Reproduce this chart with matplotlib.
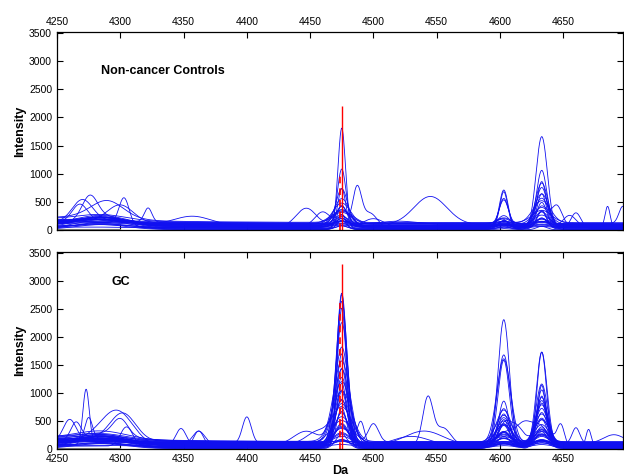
import numpy as np
import matplotlib.pyplot as plt

plt.rcParams['font.family'] = ['Liberation Sans', 'DejaVu Sans']

# tengely / feliratok
x_ticks = [4250, 4300, 4350, 4400, 4450, 4500, 4550, 4600, 4650]
y_ticks = [0, 500, 1000, 1500, 2000, 2500, 3000, 3500]
x_min, x_max = 4250, 4697

# Kontroll spektrumok (30 db) - csúcsmagasságok
ctrl_base = [10, 80, 35, 110, 55, 20, 95, 65, 40, 120, 75, 25, 100, 50, 70,
             130, 15, 85, 60, 30, 95, 45, 115, 75, 5, 105, 55, 35, 85, 65]
ctrl_left = [120, 60, 200, 30, 150, 90, 0, 170, 40, 110, 80, 190, 20, 130, 60,
             100, 160, 50, 140, 10, 70, 180, 30, 120, 90, 0, 150, 60, 110, 40]
ctrl_4475 = [1800, 1000, 700, 620, 500, 420, 380, 350, 320, 300, 280, 250, 230, 200, 190,
             180, 160, 150, 140, 120, 110, 100, 90, 80, 70, 60, 50, 40, 30, 20]
ctrl_w4475 = [3.0, 3.4, 3.2, 4.5, 6.0, 3.5, 7.0, 5.0, 8.0, 4.0, 6.5, 3.0, 9.0, 5.0, 4.0,
              7.0, 3.5, 6.0, 5.0, 8.0, 4.0, 6.0, 3.0, 7.0, 5.0, 4.0, 6.0, 3.0, 5.0, 4.0]
ctrl_4603 = [700, 600, 500, 450, 200, 150, 120, 100, 90, 80, 70, 60, 50, 40, 30,
             20, 60, 40, 30, 20, 10, 50, 40, 30, 20, 10, 30, 20, 10, 0]
ctrl_w4603 = [3.5, 3.0, 4.0, 3.5, 5.0, 4.0, 6.0, 3.5, 5.0, 4.5, 6.0, 3.0, 5.0, 4.0, 6.0,
              3.5, 5.0, 4.0, 6.0, 3.0, 5.0, 4.0, 6.0, 3.5, 5.0, 4.0, 6.0, 3.0, 5.0, 4.0]
ctrl_4633 = [1650, 980, 800, 750, 700, 620, 550, 500, 450, 400, 350, 320, 300, 280, 250,
             220, 200, 180, 150, 120, 100, 90, 80, 70, 60, 50, 40, 30, 20, 10]
ctrl_w4633 = [4.5, 4.0, 5.0, 3.5, 4.5, 6.0, 3.5, 5.5, 4.0, 7.0, 5.0, 4.0, 6.5, 3.5, 5.5,
              7.5, 4.5, 6.0, 5.0, 8.0, 4.0, 6.5, 5.0, 7.0, 4.0, 6.0, 5.0, 7.0, 4.0, 6.0]
# (spektrum, hely, magasság, szélesség)
ctrl_extra = [(0, 4303, 480, 4), (1, 4270, 380, 8), (2, 4276, 390, 6), (3, 4322, 250, 3),
              (4, 4447, 330, 8), (5, 4487, 700, 3.5), (5, 4497, 280, 6), (6, 4545, 500, 13),
              (7, 4357, 170, 15), (8, 4685, 380, 2), (9, 4697, 300, 3), (10, 4645, 350, 4),
              (11, 4660, 280, 4), (12, 4300, 300, 10), (13, 4500, 150, 8), (14, 4460, 250, 6),
              (15, 4290, 250, 12), (16, 4600, 130, 6), (17, 4268, 300, 6), (18, 4655, 200, 5),
              (19, 4380, 80, 20), (20, 4520, 60, 15)]
ctrl_red = [2200, 1000]

# GC spektrumok (40 db)
gc_base = [10, 80, 35, 110, 55, 20, 95, 65, 40, 120, 75, 25, 100, 50, 70, 130, 15, 85, 60, 30,
           95, 45, 115, 75, 5, 105, 55, 35, 85, 65, 15, 90, 45, 120, 25, 70, 55, 100, 40, 125]
gc_left = [100, 60, 180, 30, 150, 90, 0, 170, 40, 110, 80, 190, 20, 130, 60, 100, 160, 50, 140, 10,
           70, 180, 30, 120, 90, 0, 150, 60, 110, 40, 200, 20, 130, 70, 160, 40, 90, 120, 10, 150]
gc_4475 = [2750, 2700, 2600, 2400, 2200, 1800, 1600, 1500, 1400, 1300, 1200, 1150, 1100, 1000,
           950, 900, 850, 800, 750, 700, 650, 600, 550, 500, 450, 400, 380, 350, 320, 300,
           250, 200, 180, 150, 120, 100, 80, 60, 40, 20]
gc_w4475 = [3.5, 4.0, 4.5, 3.5, 5.0, 5.5, 4.0, 6.5, 4.5, 6.0, 5.0, 4.0, 7.0, 5.5, 4.5, 7.5, 6.0,
            5.0, 6.5, 4.0, 8.0, 5.5, 4.5, 7.0, 6.0, 8.5, 5.0, 6.5, 5.5, 7.5, 4.5, 6.5, 8.5, 5.5,
            7.5, 4.5, 6.5, 5.5, 8.5, 4.5]
gc_4603 = [2300, 1600, 1550, 1500, 800, 700, 600, 560, 520, 480, 450, 420, 400, 380, 350, 320,
           300, 280, 250, 220, 200, 180, 150, 120, 100, 80, 60, 50, 40, 30,
           250, 200, 150, 100, 80, 60, 40, 30, 20, 10]
gc_w4603 = [4.5, 5.0, 4.5, 5.5, 4.0, 5.0, 6.0, 4.5, 5.5, 6.5, 4.0, 5.0, 6.0, 7.0, 4.5, 5.5,
            6.5, 4.0, 5.0, 7.0, 6.0, 4.5, 5.5, 6.5, 7.5, 5.0, 6.0, 7.0, 5.0, 6.0,
            8.0, 5.0, 6.0, 7.0, 5.0, 6.0, 7.0, 5.0, 6.0, 7.0]
gc_4633 = [1720, 1650, 1100, 1050, 1000, 900, 850, 800, 750, 700, 650, 600, 550, 500, 450, 400,
           380, 350, 300, 280, 250, 220, 200, 180, 150, 120, 100, 80, 60, 40,
           300, 250, 200, 150, 120, 100, 80, 60, 40, 20]
gc_w4633 = [3.8, 4.2, 3.5, 4.5, 4.0, 5.0, 3.5, 4.5, 5.5, 4.0, 5.0, 6.0, 4.5, 5.5, 6.5, 4.0,
            5.0, 6.0, 7.0, 4.5, 5.5, 6.5, 5.0, 6.0, 7.0, 5.0, 6.0, 7.0, 5.0, 6.0,
            7.5, 5.0, 6.0, 7.0, 5.0, 6.0, 7.0, 5.0, 6.0, 7.0]
gc_extra = [(0, 4273, 970, 2.5), (1, 4260, 380, 5), (2, 4298, 500, 12), (3, 4302, 480, 10),
            (4, 4348, 300, 4), (5, 4362, 300, 4), (6, 4400, 470, 3.5), (7, 4447, 250, 10),
            (8, 4490, 450, 3), (9, 4500, 330, 4), (10, 4543, 830, 4), (10, 4555, 300, 6),
            (11, 4648, 400, 3), (12, 4660, 280, 3), (13, 4670, 300, 2), (14, 4540, 250, 15),
            (15, 4300, 300, 6), (16, 4275, 400, 3), (17, 4612, 350, 6), (18, 4362, 250, 5),
            (19, 4305, 350, 5), (20, 4455, 200, 8), (21, 4530, 180, 15), (22, 4620, 380, 8),
            (23, 4265, 300, 4), (24, 4420, 120, 10), (25, 4690, 150, 8)]
gc_red = [3300, 2600]


def spectra(base, left, p4475, w4475, p4603, w4603, p4633, w4633, extra):
    mz = np.linspace(x_min, x_max, 2000)
    out = []
    for i in range(len(base)):
        y = base[i] * (1 + 0.6 * np.exp(-(mz - x_min) / 80.0))
        y = y + left[i] * np.exp(-0.5 * ((mz - 4285) / 20.0) ** 2)
        y = y + p4475[i] * np.exp(-0.5 * ((mz - 4475) / w4475[i]) ** 2)
        y = y + p4603[i] * np.exp(-0.5 * ((mz - 4603) / w4603[i]) ** 2)
        y = y + p4633[i] * np.exp(-0.5 * ((mz - 4633) / w4633[i]) ** 2)
        for j, c, h, w in extra:
            if j == i:
                y = y + h * np.exp(-0.5 * ((mz - c) / w) ** 2)
        out.append(y)
    return mz, out


fig = plt.figure(figsize=(6.24, 4.76), dpi=100)
ax1 = fig.add_axes([0.0913, 0.5168, 0.9067, 0.416])
ax2 = fig.add_axes([0.0913, 0.0567, 0.9067, 0.414])

panels = [
    (ax1, spectra(ctrl_base, ctrl_left, ctrl_4475, ctrl_w4475, ctrl_4603, ctrl_w4603,
                  ctrl_4633, ctrl_w4633, ctrl_extra),
     ctrl_red, "Non-cancer Controls", 4285, 2770),
    (ax2, spectra(gc_base, gc_left, gc_4475, gc_w4475, gc_4603, gc_w4603,
                  gc_4633, gc_w4633, gc_extra),
     gc_red, "GC", 4293, 2930),
]

for ax, (mz, curves), red, label, tx, ty in panels:
    for y in curves:
        ax.plot(mz, y, color="#1010f0", lw=0.6)
    ax.plot([4250, 4300], [5, 5], color="gray", lw=1.5)
    ax.vlines(4475, 0, red[0], color="red", lw=1.0)
    ax.vlines(4474, 0, red[1], color="red", lw=1.2, linestyles=(0, (4, 3)))
    ax.set_xlim(x_min, x_max)
    ax.set_ylim(0, 3520)
    ax.set_yticks(y_ticks)
    ax.set_xticks(x_ticks)
    ax.tick_params(direction="in", length=4, labelsize=7.5, top=True, right=True, width=0.8)
    ax.set_ylabel("Intensity", fontsize=9, fontweight="bold", labelpad=2)
    ax.text(tx, ty, label, fontsize=9, fontweight="bold")
    for s in ax.spines.values():
        s.set_linewidth(0.9)

ax1.tick_params(labelbottom=False, labeltop=True)
ax2.set_xlabel("Da", fontsize=9, fontweight="bold", labelpad=1)

fig.savefig("out.png", dpi=100)
